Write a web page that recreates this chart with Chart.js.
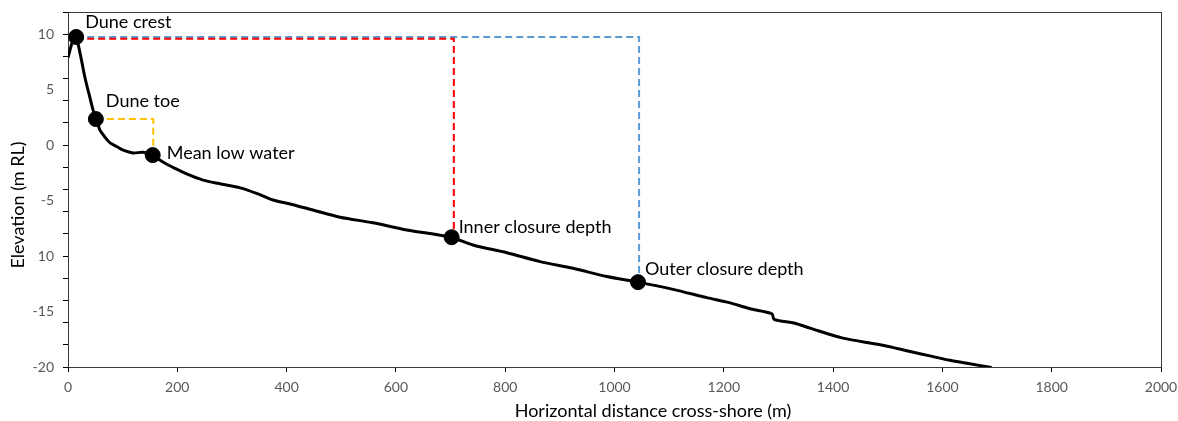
<!DOCTYPE html>
<html lang="en">
<head>
    <meta charset="UTF-8">
    <title>Beach profile</title>
    <script src="https://cdn.jsdelivr.net/npm/chart.js"></script>
    <style>
        html, body { margin: 0; padding: 0; background: #fff; }
        canvas { display: block; }
    </style>
</head>
<body>
    <canvas id="profileChart" width="1178" height="421"></canvas>
    <script>
        // surveyed cross-shore profile (m from baseline, m RL)
        const profileX = [0, 8, 14, 22, 31, 40, 46, 52, 58, 68, 77, 90, 101, 119, 137, 156, 168, 180, 192, 215, 247, 280, 315, 345, 375, 410, 448, 498, 558, 620, 700, 741, 803, 864, 924, 986, 1043, 1107, 1169, 1210, 1248, 1288, 1292, 1330, 1358, 1418, 1486, 1541, 1577, 1614, 1650, 1690];
        const profileY = [7.9, 9.3, 9.8, 8.3, 6.1, 4.3, 3.15, 2.35, 1.4, 0.7, 0.2, -0.15, -0.45, -0.7, -0.65, -0.9, -1.35, -1.7, -2.0, -2.55, -3.15, -3.5, -3.85, -4.35, -4.95, -5.35, -5.85, -6.5, -7.0, -7.65, -8.3, -9.0, -9.7, -10.5, -11.1, -11.85, -12.35, -13.0, -13.75, -14.2, -14.75, -15.2, -15.7, -16.05, -16.5, -17.4, -18.0, -18.6, -19.0, -19.4, -19.7, -20.05];

        // morphological markers
        const markerNames = ['Dune crest', 'Dune toe', 'Mean low water', 'Inner closure depth', 'Outer closure depth'];
        const markerX = [15, 51, 155, 702, 1043];
        const markerY = [9.75, 2.35, -0.9, -8.3, -12.35];

        // dashed reference lines
        const innerLineX = [15, 706, 706];
        const innerLineY = [9.6, 9.6, -8.0];
        const outerLineX = [15, 1045, 1045];
        const outerLineY = [9.75, 9.75, -12.3];
        const toeLineX = [51, 156, 156];
        const toeLineY = [2.35, 2.35, -0.9];

        // axis ticks (label at -10 is printed without its minus sign)
        const xTickValues = [0, 200, 400, 600, 800, 1000, 1200, 1400, 1600, 1800, 2000];
        const yTickValues = [-20, -15, -10, -5, 0, 5, 10];
        const yTickText = ['-20', '-15', '10', '-5', '0', '5', '10'];

        const pts = (xs, ys) => xs.map((x, i) => ({ x: x, y: ys[i] }));
        const FONT = 'Lato, "Open Sans", sans-serif';

        // label offsets next to each marker, in pixels
        const labelOffsets = [[9, -15], [10, -18], [14, -2], [7, -10], [7, -13]];

        const framePlugin = {
            id: 'frame',
            beforeDatasetsDraw(chart) {
                const a = chart.chartArea, c = chart.ctx;
                c.save();
                c.strokeStyle = '#3a3a3a';
                c.lineWidth = 1;
                c.strokeRect(Math.round(a.left) + 0.5, Math.round(a.top) + 0.5, Math.round(a.right - a.left), Math.round(a.bottom - a.top));
                c.restore();
            },
            afterDatasetsDraw(chart) {
                const c = chart.ctx;
                const meta = chart.getDatasetMeta(0);
                c.save();
                c.fillStyle = '#000';
                c.font = '18px ' + FONT;
                c.textAlign = 'left';
                c.textBaseline = 'middle';
                meta.data.forEach((p, i) => {
                    c.fillText(markerNames[i], p.x + labelOffsets[i][0], p.y + labelOffsets[i][1]);
                });
                // axis titles
                c.textAlign = 'center';
                c.fillText('Horizontal distance cross-shore (m)', 653, 411);
                c.translate(18, 205);
                c.rotate(-Math.PI / 2);
                c.fillText('Elevation (m RL)', 0, 0);
                c.restore();
            }
        };

        const dashed = (xs, ys, color) => ({
            type: 'line',
            data: pts(xs, ys),
            borderColor: color,
            borderWidth: 2,
            borderDash: [7, 4],
            pointRadius: 0,
            fill: false,
            tension: 0,
            order: 3
        });

        new Chart(document.getElementById('profileChart'), {
            type: 'scatter',
            data: {
                datasets: [
                    {
                        data: pts(markerX, markerY),
                        backgroundColor: '#000',
                        borderColor: '#000',
                        pointRadius: 7.5,
                        showLine: false,
                        order: 0
                    },
                    {
                        type: 'line',
                        data: pts(profileX, profileY),
                        borderColor: '#000',
                        borderWidth: 3,
                        pointRadius: 0,
                        tension: 0.3,
                        fill: false,
                        order: 1
                    },
                    dashed(innerLineX, innerLineY, '#ff0000'),
                    dashed(outerLineX, outerLineY, '#5b9bd5'),
                    dashed(toeLineX, toeLineY, '#ffc000')
                ]
            },
            options: {
                responsive: false,
                animation: false,
                devicePixelRatio: 1,
                layout: { padding: { top: 12, right: 17, left: 0, bottom: 0 } },
                plugins: { legend: { display: false }, tooltip: { enabled: false } },
                scales: {
                    x: {
                        type: 'linear',
                        min: 0,
                        max: 2000,
                        afterFit(s) {
                            s.height = 54;
                            s.paddingLeft = 0;
                            s.paddingRight = 0;
                        },
                        afterBuildTicks(s) {
                            s.ticks = xTickValues.map(v => ({ value: v }));
                        },
                        ticks: {
                            autoSkip: false,
                            padding: 7,
                            color: '#595959',
                            font: { family: FONT, size: 14 },
                            maxRotation: 0,
                            callback: v => String(v)
                        },
                        grid: { drawOnChartArea: false, color: '#000', tickLength: 5 },
                        border: { color: '#000', width: 1 }
                    },
                    y: {
                        type: 'linear',
                        min: -20,
                        max: 12,
                        afterFit(s) {
                            s.width = 68;
                            s.paddingTop = 0;
                            s.paddingBottom = 0;
                        },
                        afterBuildTicks(s) {
                            const t = [];
                            for (let v = -20; v <= 12; v++) {
                                if (v % 2 === 0 || yTickValues.includes(v)) t.push({ value: v });
                            }
                            s.ticks = t;
                        },
                        ticks: {
                            autoSkip: false,
                            padding: 9,
                            color: '#595959',
                            font: { family: FONT, size: 14 },
                            callback(v) {
                                const i = yTickValues.indexOf(v);
                                return i >= 0 ? yTickText[i] : '';
                            }
                        },
                        grid: {
                            drawOnChartArea: false,
                            tickLength: 5,
                            color: c => (c.tick && c.tick.value % 2 === 0) ? '#000' : 'rgba(0,0,0,0)'
                        },
                        border: { color: '#000', width: 1 }
                    }
                }
            },
            plugins: [framePlugin]
        });
    </script>
</body>
</html>
